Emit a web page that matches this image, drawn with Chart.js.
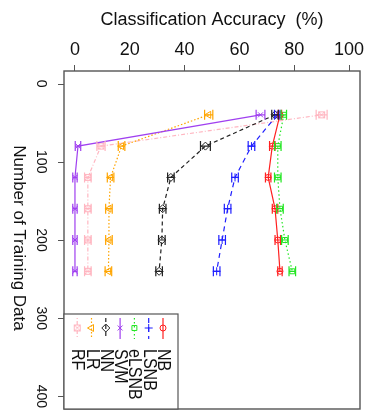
<!DOCTYPE html>
<html>
<head>
<meta charset="utf-8">
<script src="https://cdn.jsdelivr.net/npm/chart.js@4.4.1/dist/chart.umd.min.js"></script>
<style>
  html, body { margin: 0; padding: 0; background: #fff; }
  canvas { display: block; }
</style>
</head>
<body>
<canvas id="myChart" width="374" height="416"></canvas>
<script>
// training set sizes (vertical axis)
const trainingSizes = [40, 80, 120, 160, 200, 240];

// classification accuracy (%) per method
const nbAcc    = [74.8, 72.0, 70.5, 73.0, 74.0, 74.8];
const lsnbAcc  = [73.8, 64.4, 58.4, 55.7, 53.7, 51.7];
const elsnbAcc = [76.2, 74.0, 74.0, 74.8, 76.6, 79.3];
const svmAcc   = [67.7, 1.1, 0, 0, 0, 0];
const nnAcc    = [73.0, 47.6, 35.0, 32.0, 31.7, 30.7];
const lrAcc    = [48.8, 17.0, 13.0, 12.4, 12.4, 12.2];
const rfAcc    = [90.0, 9.5, 4.7, 4.7, 4.7, 4.7];

// error bar half widths
const nbErr    = [0.6, 1.0, 1.0, 1.0, 1.0, 0.8];
const lsnbErr  = [1.0, 1.2, 1.2, 1.2, 1.2, 1.2];
const elsnbErr = [1.0, 1.2, 1.2, 1.2, 1.2, 1.2];
const svmErr   = [1.6, 1.0, 0.8, 0.8, 0.8, 0.8];
const nnErr    = [1.2, 1.8, 1.2, 1.2, 1.2, 1.2];
const lrErr    = [1.5, 1.2, 1.2, 1.2, 1.2, 1.2];
const rfErr    = [2.0, 1.5, 1.2, 1.2, 1.2, 1.2];

const accTicks = [0, 20, 40, 60, 80, 100];
const sizeTicks = [0, 100, 200, 300, 400];

const FONT = "'Liberation Sans', Arial, sans-serif";

// square with a cross inside (R pch 7)
function boxX(color) {
  const c = document.createElement('canvas');
  c.width = 9; c.height = 9;
  const g = c.getContext('2d');
  g.strokeStyle = color; g.lineWidth = 1;
  g.strokeRect(1.5, 1.5, 6, 6);
  g.beginPath();
  g.moveTo(1.5, 1.5); g.lineTo(7.5, 7.5);
  g.moveTo(7.5, 1.5); g.lineTo(1.5, 7.5);
  g.stroke();
  return c;
}

const series = [
  { label: 'NB',    acc: nbAcc,    err: nbErr,    color: '#ff2020', dash: [],          style: 'circle',   rot: 0,   r: 3 },
  { label: 'LSNB',  acc: lsnbAcc,  err: lsnbErr,  color: '#1f1fff', dash: [5, 4],      style: 'cross',    rot: 0,   r: 4 },
  { label: 'eLSNB', acc: elsnbAcc, err: elsnbErr, color: '#22e622', dash: [1.5, 2.5],  style: 'rect',     rot: 0,   r: 3.5 },
  { label: 'SVM',   acc: svmAcc,   err: svmErr,   color: '#a040f0', dash: [],          style: 'crossRot', rot: 0,   r: 3.5 },
  { label: 'NN',    acc: nnAcc,    err: nnErr,    color: '#222222', dash: [4, 3],      style: 'rectRot',  rot: 0,   r: 4 },
  { label: 'LR',    acc: lrAcc,    err: lrErr,    color: '#ffa500', dash: [1.5, 2],    style: 'triangle', rot: -90, r: 4 },
  { label: 'RF',    acc: rfAcc,    err: rfErr,    color: '#ffb6c1', dash: [1, 2, 4, 2], style: boxX('#ffb6c1'), rot: 0, r: 4 }
];

const datasets = series.map(s => ({
  label: s.label,
  data: trainingSizes.map((n, i) => ({ x: s.acc[i], y: n })),
  errors: s.err,
  showLine: true,
  borderColor: s.color,
  backgroundColor: 'rgba(0,0,0,0)',
  borderWidth: 1.2,
  borderDash: s.dash,
  pointStyle: s.style,
  pointRotation: s.rot,
  pointRadius: s.r,
  pointBorderWidth: 1,
  pointBorderColor: s.color,
  pointBackgroundColor: 'rgba(0,0,0,0)',
  tension: 0
}));

// horizontal error bars with vertical caps
const errorBars = {
  id: 'errorBars',
  afterDatasetsDraw(chart) {
    const ctx = chart.ctx;
    const xs = chart.scales.x;
    chart.data.datasets.forEach((ds, di) => {
      const meta = chart.getDatasetMeta(di);
      ctx.save();
      ctx.strokeStyle = ds.borderColor;
      ctx.lineWidth = 1.2;
      meta.data.forEach((pt, i) => {
        const v = ds.data[i].x, e = ds.errors[i];
        const x0 = xs.getPixelForValue(v - e), x1 = xs.getPixelForValue(v + e);
        const y = pt.y;
        ctx.beginPath();
        ctx.moveTo(x0, y); ctx.lineTo(x1, y);
        ctx.moveTo(x0, y - 5); ctx.lineTo(x0, y + 5);
        ctx.moveTo(x1, y - 5); ctx.lineTo(x1, y + 5);
        ctx.stroke();
      });
      ctx.restore();
    });
  }
};

// box, rotated y labels/title, legend
const decorations = {
  id: 'decorations',
  afterDraw(chart) {
    const ctx = chart.ctx;
    const a = chart.chartArea;
    const ys = chart.scales.y;
    ctx.save();
    ctx.strokeStyle = '#555';
    ctx.lineWidth = 1.4;
    ctx.strokeRect(a.left, a.top, a.right - a.left, a.bottom - a.top);

    // y tick marks
    ctx.lineWidth = 1;
    ctx.beginPath();
    sizeTicks.forEach(v => {
      const py = Math.round(ys.getPixelForValue(v)) + 0.5;
      ctx.moveTo(a.left - 6, py); ctx.lineTo(a.left, py);
    });
    ctx.stroke();

    ctx.fillStyle = '#111';
    ctx.font = '14px ' + FONT;
    ctx.textAlign = 'center';
    ctx.textBaseline = 'middle';
    sizeTicks.forEach(v => {
      ctx.save();
      ctx.translate(41, ys.getPixelForValue(v));
      ctx.rotate(Math.PI / 2);
      ctx.fillText(String(v), 0, 0);
      ctx.restore();
    });
    ctx.save();
    ctx.font = '17px ' + FONT;
    ctx.translate(19, 238);
    ctx.rotate(Math.PI / 2);
    ctx.fillText('Number of Training Data', 0, 0);
    ctx.restore();

    // legend
    const lx = a.left, ly = 314, lw = 114, lh = a.bottom - 314;
    ctx.fillStyle = '#fff';
    ctx.fillRect(lx, ly, lw, lh);
    ctx.strokeStyle = '#555';
    ctx.lineWidth = 1.2;
    ctx.strokeRect(lx, ly, lw, lh);
    const colX = i => 163 - i * 14.3;
    series.forEach((s, i) => {
      const cx = colX(i);
      ctx.save();
      ctx.strokeStyle = s.color;
      ctx.lineWidth = 1.2;
      ctx.setLineDash(s.dash);
      ctx.beginPath();
      ctx.moveTo(cx, 318); ctx.lineTo(cx, 339);
      ctx.stroke();
      ctx.setLineDash([]);
      ctx.lineWidth = 1;
      ctx.fillStyle = 'rgba(0,0,0,0)';
      Chart.helpers.drawPoint(ctx, { pointStyle: s.style, rotation: s.rot, radius: s.r, borderWidth: 1 }, cx, 328);
      ctx.restore();
      ctx.save();
      ctx.fillStyle = '#111';
      ctx.font = '16px ' + FONT;
      ctx.textAlign = 'left';
      ctx.textBaseline = 'middle';
      ctx.translate(cx, 349);
      ctx.rotate(Math.PI / 2);
      ctx.scale(1, 1.12);
      ctx.fillText(s.label, 0, 0);
      ctx.restore();
    });
    ctx.restore();
  }
};

const ctx = document.getElementById('myChart').getContext('2d');

const chart = new Chart(ctx, {
  type: 'scatter',
  data: { datasets: datasets },
  options: {
    responsive: false,
    animation: false,
    devicePixelRatio: 1,
    layout: { padding: { left: 0, top: 0, right: 14, bottom: 7 } },
    plugins: {
      legend: { display: false },
      tooltip: { enabled: false }
    },
    scales: {
      x: {
        type: 'linear',
        position: 'top',
        min: -4,
        max: 104,
        afterBuildTicks: s => { s.ticks = accTicks.map(v => ({ value: v })); },
        afterFit: s => { s.height = 71; },
        border: { display: false },
        grid: { drawOnChartArea: false, drawTicks: true, tickLength: 6, color: '#555' },
        ticks: { color: '#111', font: { family: FONT, size: 18 }, padding: 4, maxRotation: 0 },
        title: {
          display: true,
          text: 'Classification Accuracy  (%)',
          color: '#111',
          font: { family: FONT, size: 18 },
          padding: { top: 9, bottom: 0 }
        }
      },
      y: {
        type: 'linear',
        reverse: true,
        min: -16,
        max: 416,
        afterBuildTicks: s => { s.ticks = sizeTicks.map(v => ({ value: v })); },
        afterFit: s => { s.width = 64; },
        border: { display: false },
        grid: { display: false },
        ticks: { display: false }
      }
    }
  },
  plugins: [errorBars, decorations]
});
</script>
</body>
</html>
